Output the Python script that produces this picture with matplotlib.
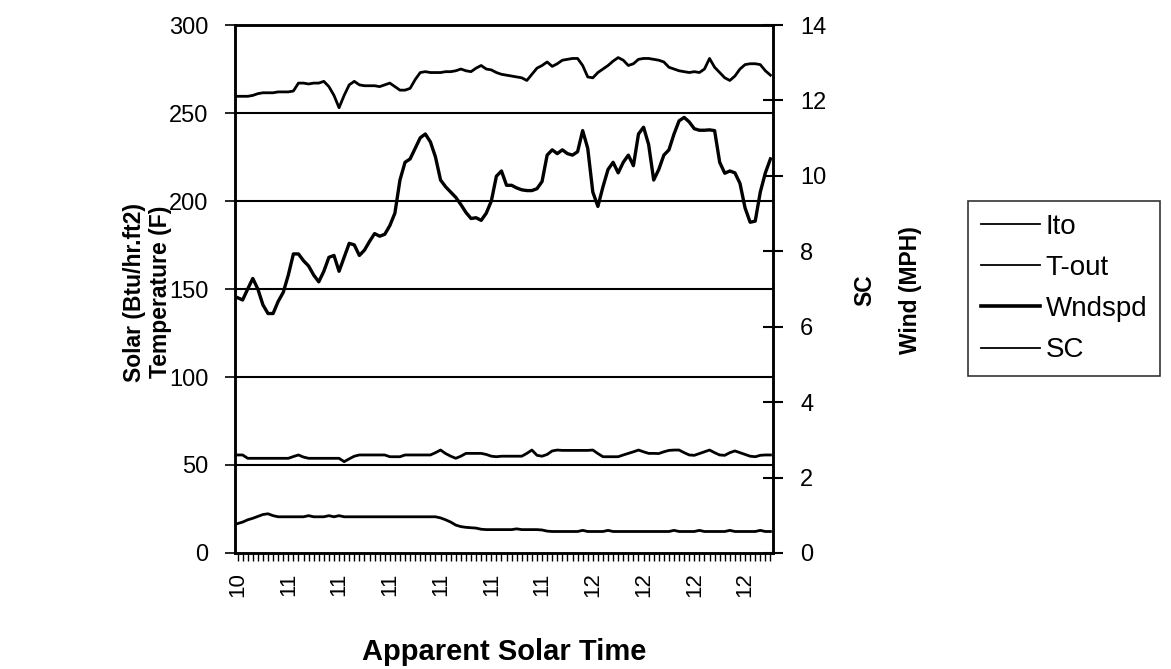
import matplotlib
matplotlib.use("Agg")
import matplotlib.pyplot as plt
from matplotlib.ticker import MultipleLocator, FixedLocator

plt.rcParams['font.family'] = ['Liberation Sans', 'DejaVu Sans']

# one reading per minute, hour shown every 10 readings
tick_labels = ['10', '11', '11', '11', '11', '11', '11', '12', '12', '12', '12']

# solar, Btu/hr.ft2 (left axis)
ito = [259.5, 259.5, 259.5, 260, 261, 261.5, 261.5, 261.5, 262, 262,
       262, 262.5, 267, 267, 266.5, 267, 267, 268, 265, 260,
       253, 260, 266, 268, 266, 265.5, 265.5, 265.5, 265, 266,
       267, 265, 263, 263, 264, 269, 273, 273.5, 273, 273,
       273, 273.5, 273.5, 274, 275, 274, 273.5, 275.5, 277, 275,
       274.5, 273, 272, 271.5, 271, 270.5, 270, 268.5, 272, 275.5,
       277, 279, 276.5, 278, 280, 280.5, 281, 281, 277, 270.5,
       270, 273, 275, 277, 279.5, 281.5, 280, 277, 278, 280.5,
       281, 281, 280.5, 280, 279, 276, 275, 274, 273.5, 273,
       273.5, 273, 275, 281, 276, 273, 270, 268.5, 271, 275,
       277.5, 278, 278, 277.5, 274, 271.5]

# outside temperature, F (left axis)
t_out = [55.7, 55.7, 53.8, 53.8, 53.8, 53.8, 53.8, 53.8, 53.8, 53.8,
         53.8, 54.8, 55.7, 54.5, 53.8, 53.8, 53.8, 53.8, 53.8, 53.8,
         53.8, 51.9, 53.5, 55.0, 55.7, 55.7, 55.7, 55.7, 55.7, 55.7,
         54.7, 54.7, 54.7, 55.7, 55.7, 55.7, 55.7, 55.7, 55.7, 57.0,
         58.5, 56.5, 55.0, 53.8, 55.0, 56.6, 56.6, 56.6, 56.6, 56.0,
         55.0, 54.7, 55.0, 55.0, 55.0, 55.0, 55.0, 56.6, 58.5, 55.5,
         55.0, 56.0, 58.0, 58.5, 58.3, 58.3, 58.3, 58.3, 58.3, 58.3,
         58.5, 56.5, 54.7, 54.7, 54.7, 54.7, 55.7, 56.6, 57.5, 58.5,
         57.5, 56.6, 56.6, 56.5, 57.5, 58.3, 58.5, 58.5, 57.0, 55.7,
         55.5, 56.5, 57.5, 58.5, 57.0, 55.7, 55.5, 57.0, 58.0, 57.0,
         56.0, 55.0, 54.7, 55.5, 55.7, 55.7]

# wind speed, MPH (right axis)
wndspd = [6.77, 6.71, 7.00, 7.28, 7.00, 6.58, 6.35, 6.35, 6.67, 6.91,
          7.37, 7.93, 7.93, 7.75, 7.61, 7.37, 7.19, 7.47, 7.84, 7.89,
          7.47, 7.84, 8.21, 8.17, 7.89, 8.03, 8.26, 8.47, 8.40, 8.45,
          8.68, 9.01, 9.89, 10.36, 10.45, 10.73, 11.01, 11.11, 10.90, 10.50,
          9.89, 9.71, 9.57, 9.43, 9.24, 9.03, 8.87, 8.89, 8.82, 9.01,
          9.33, 9.99, 10.13, 9.75, 9.75, 9.68, 9.63, 9.61, 9.61, 9.66,
          9.85, 10.55, 10.69, 10.59, 10.69, 10.59, 10.55, 10.64, 11.20, 10.73,
          9.57, 9.19, 9.71, 10.17, 10.36, 10.08, 10.36, 10.55, 10.27, 11.11,
          11.29, 10.83, 9.89, 10.17, 10.55, 10.69, 11.11, 11.46, 11.55, 11.43,
          11.25, 11.21, 11.21, 11.22, 11.20, 10.36, 10.07, 10.13, 10.08, 9.80,
          9.15, 8.77, 8.80, 9.57, 10.08, 10.45]

# shading coefficient (right axis)
sc = [0.78, 0.82, 0.88, 0.92, 0.97, 1.02, 1.04, 0.99, 0.96, 0.96,
      0.96, 0.96, 0.96, 0.96, 0.99, 0.96, 0.96, 0.96, 0.99, 0.96,
      0.99, 0.96, 0.96, 0.96, 0.96, 0.96, 0.96, 0.96, 0.96, 0.96,
      0.96, 0.96, 0.96, 0.96, 0.96, 0.96, 0.96, 0.96, 0.96, 0.96,
      0.93, 0.88, 0.82, 0.74, 0.70, 0.68, 0.67, 0.66, 0.63, 0.62,
      0.62, 0.62, 0.62, 0.62, 0.62, 0.64, 0.62, 0.62, 0.62, 0.62,
      0.61, 0.58, 0.57, 0.57, 0.57, 0.57, 0.57, 0.57, 0.60, 0.57,
      0.57, 0.57, 0.57, 0.60, 0.57, 0.57, 0.57, 0.57, 0.57, 0.57,
      0.57, 0.57, 0.57, 0.57, 0.57, 0.57, 0.60, 0.57, 0.57, 0.57,
      0.57, 0.60, 0.57, 0.57, 0.57, 0.57, 0.57, 0.60, 0.57, 0.57,
      0.57, 0.57, 0.57, 0.60, 0.57, 0.57]


def build_chart():
    n = len(ito)
    x = list(range(n))

    fig = plt.figure(figsize=(11.71, 6.69), dpi=100)
    ax = fig.add_axes([0.2007, 0.1734, 0.4594, 0.7892])
    ax2 = ax.twinx()

    l_ito, = ax.plot(x, ito, color='black', lw=2.0, label='Ito')
    l_tout, = ax.plot(x, t_out, color='black', lw=2.0, label='T-out')
    l_wnd, = ax2.plot(x, wndspd, color='black', lw=2.4, label='Wndspd')
    l_sc, = ax2.plot(x, sc, color='black', lw=2.0, label='SC')

    ax.set_xlim(-0.5, n - 0.5)
    ax.set_ylim(0, 300)
    ax2.set_ylim(0, 14)

    ax.yaxis.set_major_locator(MultipleLocator(50))
    ax2.yaxis.set_major_locator(MultipleLocator(2))
    ax.xaxis.set_major_locator(FixedLocator(range(0, n, 10)))
    ax.xaxis.set_minor_locator(MultipleLocator(1))
    ax.set_xticklabels(tick_labels, rotation=90, fontsize=16)

    ax.grid(axis='y', color='black', lw=1.5)
    grid_lines = ax.get_ygridlines()
    grid_lines[1].set_linestyle(':')
    grid_lines[1].set_linewidth(1.0)

    ax.tick_params(axis='y', direction='out', length=7, width=1.2, labelsize=17, pad=12)
    ax.tick_params(axis='x', which='both', direction='out', length=6, width=1.0, pad=8)
    ax2.tick_params(axis='y', direction='inout', length=15, width=1.5, labelsize=17, pad=12)

    for a in (ax, ax2):
        for side in ('left', 'right', 'top', 'bottom'):
            a.spines[side].set_linewidth(1.8)
            a.spines[side].set_color('black')

    label_style = dict(rotation=90, ha='center', va='center', fontsize=16.5, fontweight='bold')
    fig.text(134 / 1171, 1 - 292 / 669, 'Solar (Btu/hr.ft2)', **label_style)
    fig.text(160 / 1171, 1 - 292 / 669, 'Temperature (F)', **label_style)
    fig.text(865 / 1171, 1 - 290 / 669, 'SC', **label_style)
    fig.text(911 / 1171, 1 - 290 / 669, 'Wind (MPH)', **label_style)
    fig.text(504 / 1171, 1 - 652 / 669, 'Apparent Solar Time',
             ha='center', va='center', fontsize=21, fontweight='bold')

    leg = fig.legend(handles=[l_ito, l_tout, l_wnd, l_sc],
                     loc='upper left', bbox_to_anchor=(968 / 1171, 1 - 201 / 669),
                     frameon=True, fancybox=False, shadow=False, fontsize=20,
                     handlelength=2.15, handletextpad=0.2, labelspacing=0.55,
                     borderpad=0.45, borderaxespad=0)
    leg.get_frame().set_edgecolor('black')
    leg.get_frame().set_linewidth(1.2)
    for line, w in zip(leg.get_lines(), (1.3, 1.3, 2.6, 1.3)):
        line.set_linewidth(w)

    return fig


def main():
    fig = build_chart()
    fig.savefig('out.png', dpi=100)


if __name__ == '__main__':
    main()
